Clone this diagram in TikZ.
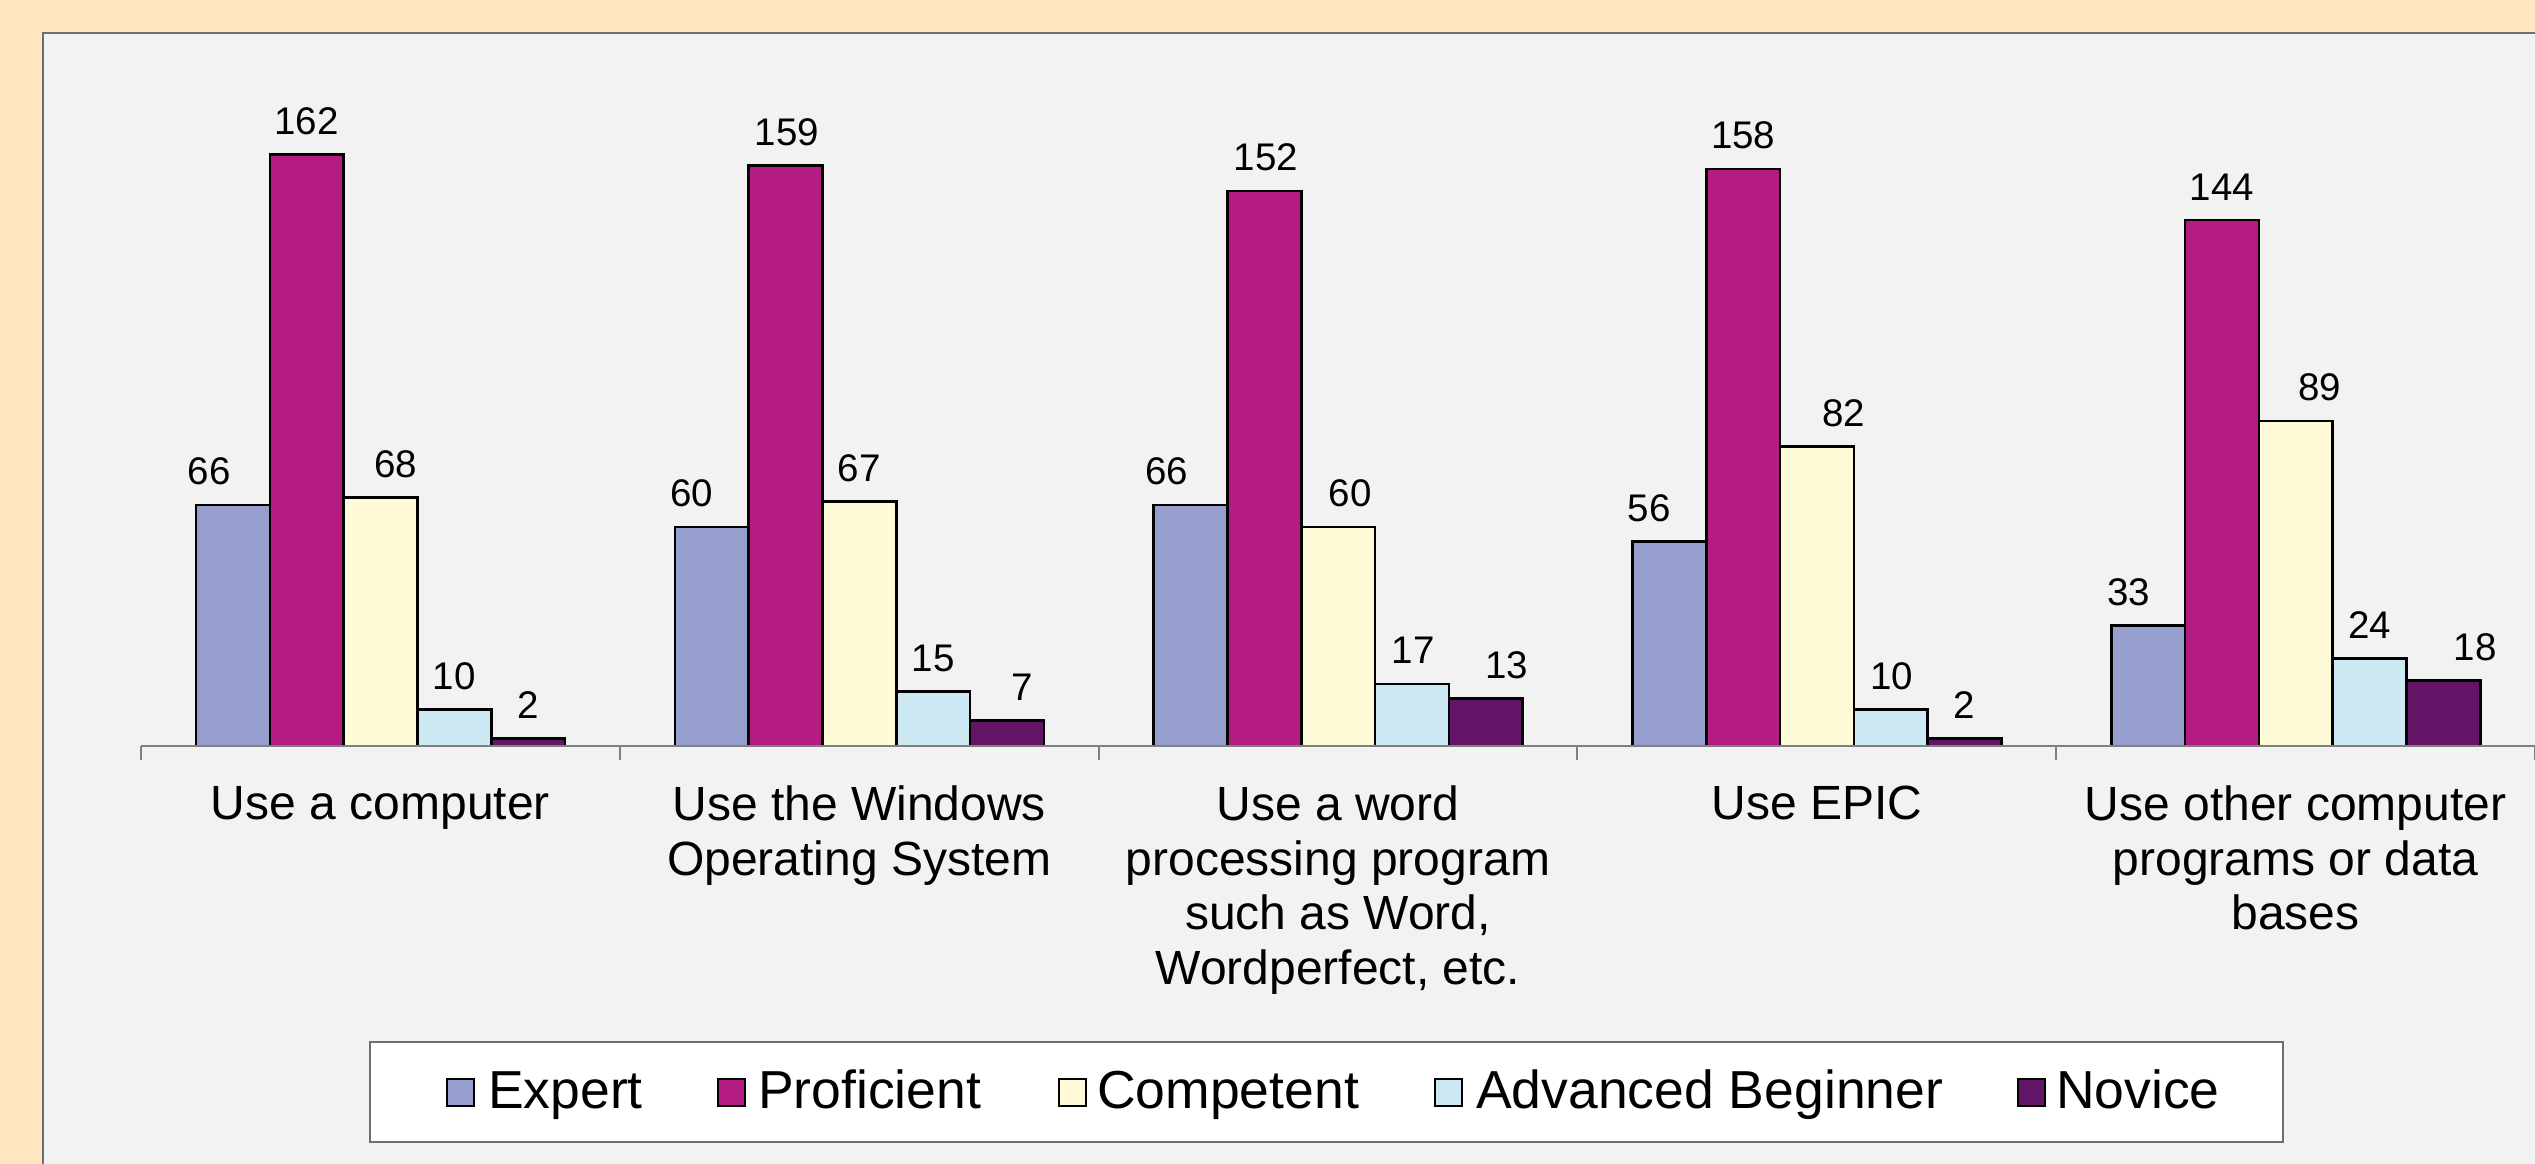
\documentclass[tikz,border=0pt]{standalone}
\usepackage{fontspec}
\setmainfont{Liberation Sans}
\definecolor{outerbg}{HTML}{FFE6BF}
\definecolor{panelbg}{HTML}{F2F2F2}
\definecolor{panelline}{HTML}{6E6E6E}
\definecolor{axisgray}{HTML}{808080}
\definecolor{ser0}{HTML}{969ECE}
\definecolor{ser1}{HTML}{B41C82}
\definecolor{ser2}{HTML}{FFFAD7}
\definecolor{ser3}{HTML}{CCE9F3}
\definecolor{ser4}{HTML}{631466}
\tikzset{
  barbox/.style={draw=black, line width=2.6pt},
  vlab/.style={font=\fontsize{38.5}{45}\selectfont, inner sep=0pt, anchor=base},
  catlab/.style={font=\fontsize{48}{54.5}\selectfont, inner sep=0pt, align=center, anchor=north},
  leglab/.style={font=\fontsize{53.5}{60}\selectfont, inner sep=0pt, anchor=base west},
  legsw/.style={draw=black, line width=2.4pt},
  axisline/.style={draw=axisgray, line width=2pt}
}
\begin{document}
\begin{tikzpicture}[x=1pt,y=-1pt]
\useasboundingbox (0,0) rectangle (2535,1164);
\clip (0,0) rectangle (2535,1164);
\fill[outerbg] (0,0) rectangle (2535,1164);
\filldraw[fill=panelbg, draw=panelline, line width=2.5pt] (43,33) rectangle (2560,1190);
% bars
\foreach \vals [count=\g from 0] in {
  {66/-23.6,162/0,68/15.4,10/0,2/0},
  {60/-20,159/1.5,67/0,15/0,7/15},
  {66/-24,152/1.5,60/12,17/1.3,13/21},
  {56/-20,158/0,82/27,10/0.7,2/0},
  {33/-19.5,144/0,89/24,24/0,18/32}} {
  \foreach \v/\o [count=\j from 0] in \vals {
    \pgfmathsetmacro\xl{141+478.8*\g+55+73.8*\j}
    \pgfmathsetmacro\xr{\xl+73.8}
    \pgfmathsetmacro\yt{746-\v*3.652}
    \pgfmathsetmacro\xc{\xl+36.9+\o}
    \pgfmathsetmacro\yl{\yt-20}
    \filldraw[barbox, fill=ser\j] (\xl,746) rectangle (\xr,\yt);
    \node[vlab] (v\g\j) at (\xc,\yl) {\v};
  }
}
% axis
\coordinate (axL) at (141,746);
\coordinate (axR) at (2540,746);
\draw[axisline] (axL) -- (axR);
\foreach \k in {0,...,5} {
  \pgfmathsetmacro\xt{141+478.8*\k}
  \coordinate (t\k) at (\xt,746);
  \coordinate (tb\k) at (\xt,760);
  \draw[axisline] (t\k) -- (tb\k);
}
% category labels
\node[catlab] (c0) at (380.4,786) {Use a computer};
\node[catlab] (c1) at (859.2,786) {Use the Windows\\Operating System};
\node[catlab] (c2) at (1338,786) {Use a word\\processing program\\such as Word,\\Wordperfect, etc.};
\node[catlab] (c3) at (1816.8,786) {Use EPIC};
\node[catlab] (c4) at (2295.6,786) {Use other computer\\programs or data\\bases};
% legend
\filldraw[fill=white, draw=panelline, line width=2.2pt] (370,1042) rectangle (2283,1142);
\foreach \sx/\tx/\txt [count=\i from 0] in {447/488/Expert, 718/758/Proficient, 1059/1097/Competent, 1435/1476/Advanced Beginner, 2018/2056/Novice} {
  \pgfmathsetmacro\sxr{\sx+27}
  \filldraw[legsw, fill=ser\i] (\sx,1079) rectangle (\sxr,1106);
  \node[leglab] (l\i) at (\tx,1108) {\txt};
}
\end{tikzpicture}
\end{document}
